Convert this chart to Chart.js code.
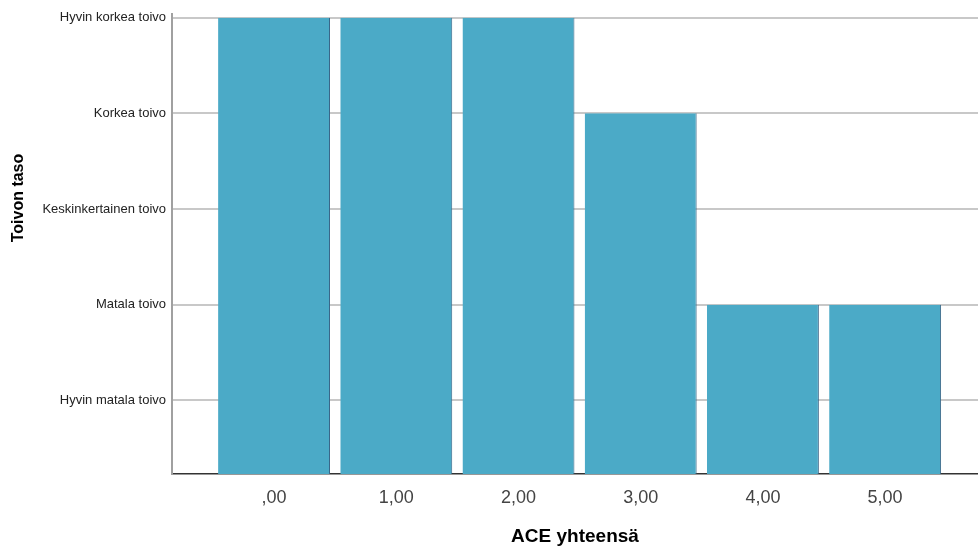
<!DOCTYPE html>
<html>
<head>
<meta charset="utf-8">
<script src="https://cdn.jsdelivr.net/npm/chart.js@4/dist/chart.umd.min.js"></script>
<style>
    body { margin: 0; background: #fff; }
    #wrap { width: 978px; height: 548px; position: relative; }
</style>
</head>
<body>
<div id="wrap"><canvas id="myChart"></canvas></div>
<script>
// ---------------- DONNÉES ----------------
const aceTotals = [0, 1, 2, 3, 4, 5];
const hopeLevel = [5, 5, 5, 4, 2, 2];
const levelTicks = [1, 2, 3, 4, 5];
const levelLabels = ['Hyvin matala toivo', 'Matala toivo', 'Keskinkertainen toivo', 'Korkea toivo', 'Hyvin korkea toivo'];

// ---------------- GRAPH ----------------
const yMin = 0.23;

// titre vertical, un peu au-dessus du centre comme dans SPSS
const yTitlePlugin = {
    id: 'yTitle',
    afterDraw(chart) {
        const ctx = chart.ctx;
        ctx.save();
        ctx.translate(19, 198);
        ctx.rotate(-Math.PI / 2);
        ctx.font = 'bold 16px "Liberation Sans", Arial, sans-serif';
        ctx.fillStyle = '#000';
        ctx.textAlign = 'center';
        ctx.textBaseline = 'middle';
        ctx.fillText('Toivon taso', 0, 0);
        ctx.restore();
    }
};

const ctx = document.getElementById('myChart');
new Chart(ctx, {
    type: 'bar',
    data: {
        datasets: [{
            data: aceTotals.map((x, i) => ({ x: x, y: hopeLevel[i] })),
            backgroundColor: '#4baac7',
            borderColor: '#3a6788',
            borderWidth: { left: 0, top: 0, right: 1, bottom: 0 },
            borderSkipped: false,
            base: yMin,
            barPercentage: 0.916,
            categoryPercentage: 1
        }]
    },
    options: {
        responsive: true,
        maintainAspectRatio: false,
        animation: false,
        layout: { padding: { top: 12, right: 0, left: 0, bottom: 0 } },
        plugins: { legend: { display: false }, tooltip: { enabled: false } },
        scales: {
            x: {
                type: 'linear',
                offset: false,
                min: -0.835,
                max: 5.76,
                afterFit: axis => { axis.height = 74; },
                afterBuildTicks: axis => { axis.ticks = aceTotals.map(v => ({ value: v })); },
                grid: { display: false },
                border: { display: true, color: '#333', width: 1.5 },
                ticks: {
                    padding: 5,
                    color: '#444',
                    font: { family: '"Liberation Sans", Arial, sans-serif', size: 18 },
                    callback: v => v === 0 ? ',00' : v.toFixed(2).replace('.', ',')
                },
                title: {
                    display: true,
                    text: 'ACE yhteensä',
                    color: '#000',
                    font: { family: '"Liberation Sans", Arial, sans-serif', size: 19, weight: 'bold' },
                    padding: { top: 0, bottom: 0 }
                }
            },
            y: {
                type: 'linear',
                min: yMin,
                max: 5.04,
                afterFit: axis => { axis.width = 172; },
                afterBuildTicks: axis => { axis.ticks = levelTicks.map(v => ({ value: v })); },
                grid: { color: '#c8c8c8', lineWidth: 2, drawTicks: false },
                border: { display: true, color: '#a0a0a0', width: 2 },
                ticks: {
                    padding: 6,
                    color: '#222',
                    font: { family: '"Liberation Sans", Arial, sans-serif', size: 13 },
                    callback: v => levelLabels[levelTicks.indexOf(v)]
                }
            }
        }
    },
    plugins: [yTitlePlugin]
});
</script>
</body>
</html>
